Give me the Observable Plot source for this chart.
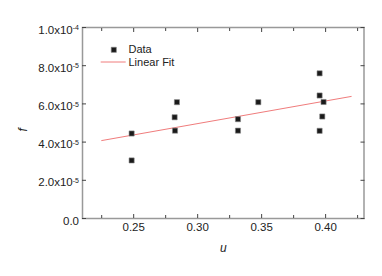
<!DOCTYPE html>
<html>
<head>
<meta charset="utf-8">
<script src="https://cdn.jsdelivr.net/npm/d3@7"></script>
<script src="https://cdn.jsdelivr.net/npm/@observablehq/plot@0.6"></script>
<style>
  html, body { margin: 0; padding: 0; background: #fff; }
  svg { font-family: "Liberation Sans", Arial, sans-serif; }
</style>
</head>
<body>
<div id="chart"></div>
<script>
// Data points
const uValues = [0.2484, 0.2484, 0.2823, 0.2820, 0.2838, 0.3315, 0.3315, 0.3474, 0.3953, 0.3953, 0.3984, 0.3974, 0.3953];
const fValues = [4.45e-5, 3.04e-5, 4.60e-5, 5.30e-5, 6.09e-5, 4.60e-5, 5.20e-5, 6.09e-5, 4.59e-5, 6.44e-5, 6.10e-5, 5.34e-5, 7.60e-5];
// Linear fit endpoints
const fitU = [0.225, 0.42];
const fitF = [4.08e-5, 6.39e-5];
// Ticks
const xMajor = [0.25, 0.30, 0.35, 0.40];
const xMinor = [0.225, 0.275, 0.325, 0.375, 0.425];
const yMajor = [0, 2e-5, 4e-5, 6e-5, 8e-5, 1e-4];
const yLabels = ["0.0", "2.0x10|-5", "4.0x10|-5", "6.0x10|-5", "8.0x10|-5", "1.0x10|-4"];
const legendLabels = ["Data", "Linear Fit"];

const points = uValues.map((u, i) => ({u, f: fValues[i]}));
const fit = fitU.map((u, i) => ({u, f: fitF[i]}));

const tickColor = "#444";
const frameColor = "#999";
const textColor = "#222";

const chart = Plot.plot({
  width: 382,
  height: 276,
  marginLeft: 82,
  marginRight: 18.5,
  marginTop: 27,
  marginBottom: 58,
  style: {fontFamily: "'Liberation Sans', Arial, sans-serif", color: textColor, background: "#fff"},
  x: {domain: [0.21, 0.43]},
  y: {domain: [0, 1e-4]},
  marks: [
    Plot.frame({stroke: frameColor, strokeWidth: 1.5}),
    // inward ticks bottom/top
    Plot.axisX(xMajor, {anchor: "bottom", tickSize: -4, tickFormat: () => "", label: null, stroke: tickColor}),
    Plot.axisX(xMinor, {anchor: "bottom", tickSize: -3, tickFormat: () => "", label: null, stroke: tickColor}),
    Plot.axisX(xMajor, {anchor: "top", tickSize: -4, tickFormat: () => "", label: null, stroke: tickColor}),
    Plot.axisX(xMinor, {anchor: "top", tickSize: -3, tickFormat: () => "", label: null, stroke: tickColor}),
    Plot.axisX(xMajor, {anchor: "bottom", tickSize: 0, tickPadding: 4, tickFormat: d3.format(".2f"), label: null, fontSize: 11.5, fill: textColor}),
    // inward ticks left/right
    Plot.axisY(yMajor, {anchor: "left", tickSize: -4, tickFormat: () => "", label: null, stroke: tickColor}),
    Plot.axisY(yMajor, {anchor: "right", tickSize: -4, tickFormat: () => "", label: null, stroke: tickColor}),
    Plot.axisY(yMajor, {anchor: "left", tickSize: 0, tickPadding: 3.5, dy: 2.5, tickFormat: (d, i) => yLabels[i], label: null, fontSize: 11.5, fill: textColor}),
    // fit line
    Plot.line(fit, {x: "u", y: "f", stroke: "#f07c7c", strokeWidth: 1}),
    // data
    Plot.dot(points, {x: "u", y: "f", symbol: "square", r: 2.9, fill: "#1a1a1a", stroke: "#888", strokeWidth: 0.6}),
    // legend
    Plot.dot([0], {frameAnchor: "top-left", dx: 31.3, dy: 22.3, symbol: "square", r: 2.9, fill: "#1a1a1a", stroke: "#888", strokeWidth: 0.6}),
    Plot.text([legendLabels[0]], {frameAnchor: "top-left", dx: 46, dy: 22.3, lineAnchor: "middle", text: d => d, textAnchor: "start", fontSize: 11, fill: textColor}),
    Plot.text([legendLabels[1]], {frameAnchor: "top-left", dx: 46, dy: 34.8, lineAnchor: "middle", text: d => d, textAnchor: "start", fontSize: 11, fill: textColor}),
    // axis titles
    Plot.text(["f"], {frameAnchor: "left", dx: -59, dy: 8.5, rotate: -90, lineAnchor: "middle", text: d => d, fontStyle: "italic", fontSize: 12, fill: textColor}),
    Plot.text(["u"], {frameAnchor: "bottom", dx: 0, dy: 30, lineAnchor: "middle", text: d => d, fontStyle: "italic", fontSize: 12, fill: textColor})
  ]
});

// legend line
const svg = d3.select(chart);
svg.append("line")
  .attr("x1", 100.7).attr("x2", 125.7).attr("y1", 62).attr("y2", 62)
  .attr("stroke", "#f07c7c").attr("stroke-width", 1);

// superscript exponents on y labels
svg.selectAll("text").each(function() {
  const t = d3.select(this);
  const s = t.text();
  if (s.includes("|")) {
    const [base, exp] = s.split("|");
    t.text(null);
    t.append("tspan").text(base);
    t.append("tspan").attr("dy", "-0.5em").attr("font-size", 7).text(exp);
  }
});

document.getElementById("chart").appendChild(chart);
</script>
</body>
</html>
